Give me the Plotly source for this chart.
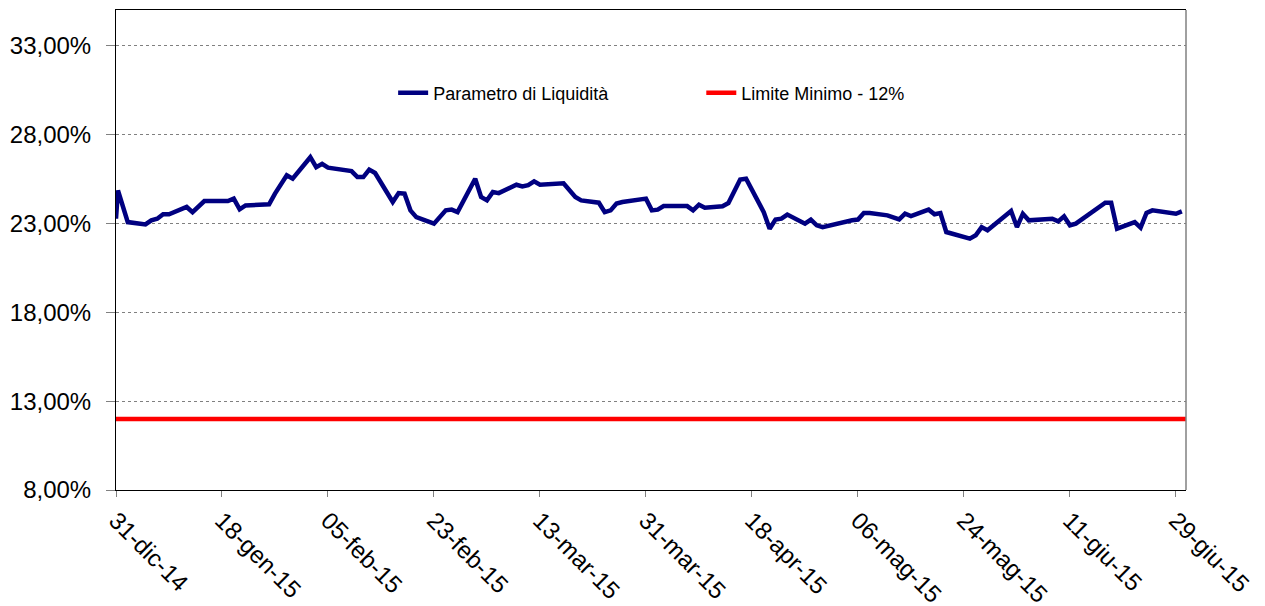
import plotly.graph_objects as go

dates = ["2014-12-31", "2014-12-31 08:00", "2015-01-02", "2015-01-05", "2015-01-06", "2015-01-07",
         "2015-01-08", "2015-01-09", "2015-01-12", "2015-01-13", "2015-01-15", "2015-01-19",
         "2015-01-20", "2015-01-21", "2015-01-22", "2015-01-26", "2015-01-27", "2015-01-29",
         "2015-01-30", "2015-02-02", "2015-02-03", "2015-02-04", "2015-02-05", "2015-02-09",
         "2015-02-10", "2015-02-11", "2015-02-12", "2015-02-13", "2015-02-16", "2015-02-17",
         "2015-02-18", "2015-02-19", "2015-02-20", "2015-02-23", "2015-02-25", "2015-02-26",
         "2015-02-27", "2015-03-02", "2015-03-03", "2015-03-04", "2015-03-05", "2015-03-06",
         "2015-03-09", "2015-03-10", "2015-03-11", "2015-03-12", "2015-03-13", "2015-03-17",
         "2015-03-19", "2015-03-20", "2015-03-23", "2015-03-24", "2015-03-25", "2015-03-26",
         "2015-03-27", "2015-03-30", "2015-03-31", "2015-04-01", "2015-04-02", "2015-04-03",
         "2015-04-07", "2015-04-08", "2015-04-09", "2015-04-10", "2015-04-13", "2015-04-14",
         "2015-04-16", "2015-04-17", "2015-04-20", "2015-04-21", "2015-04-22", "2015-04-23",
         "2015-04-24", "2015-04-27", "2015-04-28", "2015-04-29", "2015-04-30", "2015-05-05",
         "2015-05-06", "2015-05-07", "2015-05-08", "2015-05-11", "2015-05-13", "2015-05-14",
         "2015-05-15", "2015-05-18", "2015-05-19", "2015-05-20", "2015-05-21", "2015-05-25",
         "2015-05-26", "2015-05-27", "2015-05-28", "2015-06-01", "2015-06-02", "2015-06-03",
         "2015-06-04", "2015-06-08", "2015-06-09", "2015-06-10", "2015-06-11", "2015-06-12",
         "2015-06-17", "2015-06-18", "2015-06-19", "2015-06-22", "2015-06-23", "2015-06-24",
         "2015-06-25", "2015-06-29", "2015-06-30"]

liquidity = [23.26, 24.85, 23.07, 22.94, 23.17, 23.26,
             23.51, 23.51, 23.92, 23.63, 24.25, 24.25,
             24.39, 23.79, 24.01, 24.07, 24.67, 25.70,
             25.51, 26.72, 26.16, 26.35, 26.13, 25.94,
             25.60, 25.60, 26.02, 25.83, 24.20, 24.70,
             24.67, 23.73, 23.35, 22.98, 23.73, 23.77,
             23.63, 25.51, 24.48, 24.29, 24.76, 24.70,
             25.17, 25.08, 25.15, 25.36, 25.17, 25.25,
             24.48, 24.29, 24.16, 23.63, 23.73, 24.11,
             24.20, 24.39, 24.39, 23.73, 23.77, 23.97,
             23.97, 23.73, 24.05, 23.88, 23.96, 24.14,
             25.46, 25.51, 23.63, 22.70, 23.21, 23.26,
             23.49, 22.98, 23.21, 22.89, 22.79, 23.17,
             23.21, 23.58, 23.58, 23.45, 23.22, 23.54,
             23.41, 23.77, 23.51, 23.58, 22.51, 22.14,
             22.33, 22.79, 22.61, 23.69, 22.79, 23.54,
             23.17, 23.26, 23.11, 23.39, 22.89, 22.98,
             24.16, 24.16, 22.70, 23.07, 22.76, 23.58,
             23.73, 23.54, 23.67]

limit_dates = ["2014-12-31", "2015-06-30 17:00"]
limit_values = [12, 12]

tick_dates = ["2014-12-31", "2015-01-18", "2015-02-05", "2015-02-23", "2015-03-13", "2015-03-31",
              "2015-04-18", "2015-05-06", "2015-05-24", "2015-06-11", "2015-06-29"]
tick_labels = ["31-dic-14", "18-gen-15", "05-feb-15", "23-feb-15", "13-mar-15", "31-mar-15",
               "18-apr-15", "06-mag-15", "24-mag-15", "11-giu-15", "29-giu-15"]

FONT = "Liberation Sans, Arial, sans-serif"

fig = go.Figure()
fig.add_trace(go.Scatter(x=dates, y=liquidity, mode="lines", name="Parametro di Liquidità",
                         line=dict(color="#000080", width=4.5), legend="legend"))
fig.add_trace(go.Scatter(x=limit_dates, y=limit_values, mode="lines", name="Limite Minimo - 12%",
                         line=dict(color="#FF0000", width=4.5), legend="legend2"))

# page body has an 8px default margin: compensate so the plot area lands at 116..1186 x 10..490
fig.update_layout(
    width=1265, height=606,
    margin=dict(l=108, r=87, t=2, b=124),
    paper_bgcolor="white", plot_bgcolor="white",
    separators=",.",
    font=dict(family=FONT, color="black"),
    showlegend=True,
    legend=dict(x=0.259, y=0.827, xanchor="left", yanchor="middle", orientation="h",
                font=dict(size=18, family=FONT), bgcolor="rgba(0,0,0,0)"),
    legend2=dict(x=0.547, y=0.827, xanchor="left", yanchor="middle", orientation="h",
                 font=dict(size=18, family=FONT), bgcolor="rgba(0,0,0,0)"),
)

fig.update_xaxes(
    type="date", range=["2014-12-31", "2015-06-30 17:00"],
    tickmode="array", tickvals=tick_dates, ticktext=tick_labels,
    tickangle=45, tickfont=dict(size=24, family=FONT),
    ticks="outside", ticklen=6, tickcolor="#808080",
    showline=True, linecolor="black", linewidth=1, mirror=True,
    showgrid=False, zeroline=False, automargin=False,
)
fig.update_yaxes(
    range=[8, 35], tick0=8, dtick=5, tickformat=".2f", ticksuffix="%",
    tickfont=dict(size=24, family=FONT), ticklabelstandoff=10,
    ticks="outside", ticklen=9, tickcolor="#808080",
    showline=True, linecolor="black", linewidth=1,
    showgrid=True, gridcolor="#808080", gridwidth=1, griddash="dot",
    zeroline=False, automargin=False,
)
fig.add_shape(type="line", xref="paper", yref="paper", x0=1, x1=1, y0=0, y1=1,
              line=dict(color="#808080", width=1.5))

fig.write_html("out.html")
